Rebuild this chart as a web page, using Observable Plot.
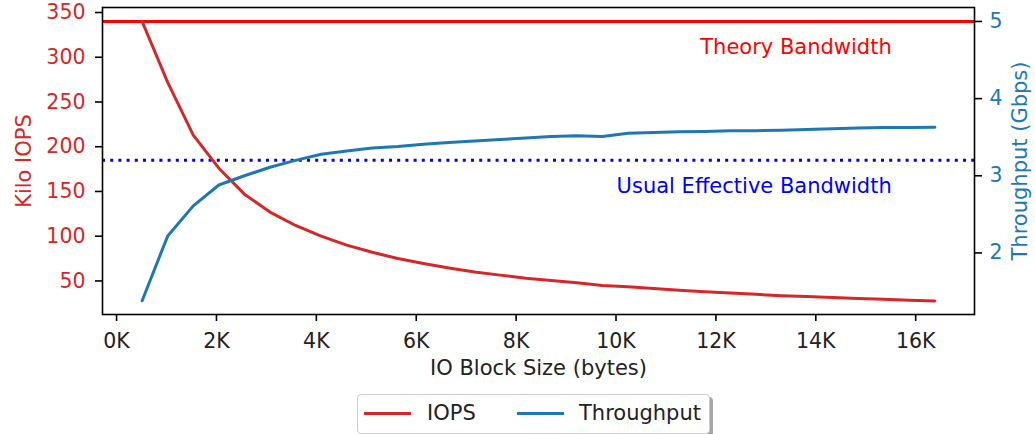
<!DOCTYPE html>
<html>
<head>
<meta charset="utf-8">
<script src="https://cdn.jsdelivr.net/npm/d3@7"></script>
<script src="https://cdn.jsdelivr.net/npm/@observablehq/plot@0.6"></script>
<style>
  html, body { margin: 0; padding: 0; background: #fff; }
  #wrap { position: relative; width: 1035px; height: 434px; font-family: "DejaVu Sans", sans-serif; overflow: hidden; }
  #legend { position: absolute; left: 357px; top: 394px; width: 353px; height: 40px; box-sizing: border-box;
            border: 1px solid #cccccc; border-radius: 4px; background: #fff; box-shadow: 3px 3px 0 rgba(0,0,0,0.35); }
  .sw { position: absolute; top: 17px; height: 3px; width: 47px; }
  .lt { position: absolute; top: 6px; font-size: 21px; color: #222; line-height: 24px; }
</style>
</head>
<body>
<div id="wrap">
  <div id="chart"></div>
  <div id="legend"></div>
</div>
<script>
// ---- data ----
const blockSizes = [512, 1024, 1536, 2048, 2560, 3072, 3584, 4096, 4608, 5120, 5632, 6144, 6656, 7168, 7680, 8192,
                    8704, 9216, 9728, 10240, 10752, 11264, 11776, 12288, 12800, 13312, 13824, 14336, 14848, 15360, 15872, 16384];
const kiloIops = [340, 272, 213, 176, 147, 127, 112, 100, 90, 82, 75, 69.5, 64.5, 60, 56.5, 53,
                  50.5, 48, 45, 43.5, 41.5, 39.5, 38, 36.5, 35, 33.5, 32.5, 31.5, 30.5, 29.5, 28.5, 27.7];
const throughputGbps = [1.38, 2.22, 2.61, 2.88, 3.0, 3.11, 3.2, 3.28, 3.32, 3.36, 3.38, 3.41, 3.43, 3.45, 3.47, 3.49,
                        3.51, 3.52, 3.51, 3.55, 3.56, 3.57, 3.575, 3.585, 3.585, 3.59, 3.6, 3.61, 3.62, 3.625, 3.627, 3.63];
const xTicks = [0, 2000, 4000, 6000, 8000, 10000, 12000, 14000, 16000];
const leftTicks = [50, 100, 150, 200, 250, 300, 350];
const rightTicks = [2, 3, 4, 5];
const theoryGbps = 5;
const effectiveGbps = 3.2;
const annoText = ["Theory Bandwidth", "Usual Effective Bandwidth"];
const annoX = [15520, 15520];
const annoGbps = [4.66, 2.87];
const annoColor = ["#ff0000", "#0000ff"];
const seriesNames = ["IOPS", "Throughput"];
const seriesColors = ["#d62728", "#1f77b4"];

// ---- scales ----
const xDomain = [-281.6, 17177.6];
const leftDomain = [12.5, 355.6];
const rightDomain = [1.202, 5.181];
const k = (leftDomain[1] - leftDomain[0]) / (rightDomain[1] - rightDomain[0]);
const toLeft = t => leftDomain[0] + (t - rightDomain[0]) * k;
const fromLeft = v => rightDomain[0] + (v - leftDomain[0]) / k;

const rows = blockSizes.map((s, i) => ({size: s, iops: kiloIops[i], tp: throughputGbps[i]}));
const annos = annoText.map((t, i) => ({text: t, x: annoX[i], y: toLeft(annoGbps[i]), c: annoColor[i]}));

const red = seriesColors[0], blue = seriesColors[1];
const FS = 20.5;

const chart = Plot.plot({
  width: 1035,
  height: 390,
  marginLeft: 102,
  marginRight: 61,
  marginTop: 7,
  marginBottom: 76,
  style: {fontFamily: "DejaVu Sans", fontSize: FS + "px", background: "white", overflow: "visible"},
  x: {type: "linear", domain: xDomain},
  y: {type: "linear", domain: leftDomain},
  marks: [
    Plot.ruleY([toLeft(theoryGbps)], {stroke: "#ff0000", strokeWidth: 3}),
    Plot.ruleY([toLeft(effectiveGbps)], {stroke: "#0000ff", strokeWidth: 3, strokeDasharray: "3,5.2"}),
    Plot.line(rows, {x: "size", y: "iops", stroke: red, strokeWidth: 3}),
    Plot.line(rows, {x: "size", y: d => toLeft(d.tp), stroke: blue, strokeWidth: 3}),
    Plot.text(annos, {x: "x", y: "y", text: "text", fill: "c", textAnchor: "end", fontSize: 21}),
    Plot.frame({stroke: "black", strokeWidth: 1.6}),
    Plot.axisX({ticks: xTicks, tickFormat: d => (d / 1000) + "K", tickSize: 7, tickPadding: 12,
                stroke: "black", strokeWidth: 1.6, fill: "#222", fontSize: FS, label: null}),
    Plot.axisY({anchor: "left", ticks: leftTicks, tickFormat: d => String(d), tickSize: 7, tickPadding: 10,
                stroke: "black", strokeWidth: 1.6, fill: red, fontSize: FS, label: null}),
    Plot.axisY({anchor: "right", ticks: rightTicks.map(toLeft), tickFormat: d => String(Math.round(fromLeft(d))),
                tickSize: 7, tickPadding: 8, stroke: "black", strokeWidth: 1.6, fill: blue, fontSize: FS, label: null}),
    Plot.text(["Kilo IOPS"], {frameAnchor: "left", dx: -78, rotate: -90, textAnchor: "middle", lineAnchor: "middle", fill: red, fontSize: 21}),
    Plot.text(["Throughput (Gbps)"], {frameAnchor: "right", dx: 46, rotate: -90, textAnchor: "middle", lineAnchor: "middle", fill: blue, fontSize: 21}),
    Plot.text(["IO Block Size (bytes)"], {frameAnchor: "bottom", dy: 54, textAnchor: "middle", lineAnchor: "middle", fill: "#222", fontSize: 21})
  ]
});
document.getElementById("chart").appendChild(chart);

// ---- legend ----
const legend = document.getElementById("legend");
const swLeft = [6, 159];
const txtLeft = [69, 221];
seriesNames.forEach((name, i) => {
  const sw = document.createElement("div");
  sw.className = "sw";
  sw.style.left = swLeft[i] + "px";
  sw.style.background = seriesColors[i];
  legend.appendChild(sw);
  const t = document.createElement("div");
  t.className = "lt";
  t.style.left = txtLeft[i] + "px";
  t.textContent = name;
  legend.appendChild(t);
});
</script>
</body>
</html>
